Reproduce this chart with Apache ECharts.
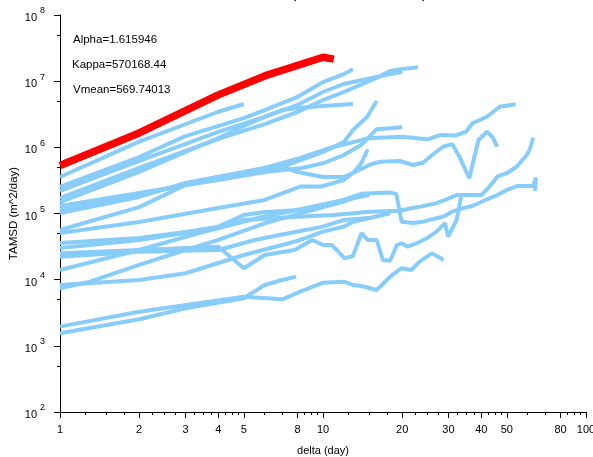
<!DOCTYPE html>
<html>
<head>
<meta charset="utf-8">
<script src="https://cdn.jsdelivr.net/npm/echarts@6/dist/echarts.min.js"></script>
<style>
html, body { margin: 0; padding: 0; background: #fff; }
#chart { width: 593px; height: 457px; }
</style>
</head>
<body>
<div id="chart"></div>
<script>
// tick values
var xMajor = [1, 2, 3, 4, 5, 8, 10, 20, 30, 40, 50, 80, 100]
var xMinor = [1.25, 1.5, 1.75, 2.25, 2.5, 2.75, 3.25, 3.5, 3.75, 4.25, 4.5, 4.75, 6, 7,
    8.5, 9, 9.5, 12.5, 15, 17.5, 22.5, 25, 27.5, 32.5, 35, 37.5, 42.5, 45, 47.5, 60, 70, 85, 90, 95]
var yMinor = [500, 5000, 50000, 500000, 5000000, 50000000]

// fitted mean curve  [delta (day), TAMSD]
var meanCurve = [[1, 5.3e5], [2, 1.65e6], [4, 6.2e6], [6, 1.2e7], [10, 2.3e7], [11, 2.15e7]]

// individual tracks  [delta (day), TAMSD]
var u1 = [[1, 3.56e5], [2, 1.22e6], [4, 3.45e6], [5, 4.52e6]]
var u2 = [[1, 2.52e5], [2, 7.14e5], [3, 1.48e6], [5, 2.77e6], [6, 3.66e6], [8, 5.77e6], [10, 9.7e6], [12, 1.28e7], [13, 1.51e7]]
var u3 = [[1, 2.19e5], [2, 6.22e5], [4, 1.71e6], [6, 2.88e6], [8, 4.37e6], [10, 6.86e6], [12, 9.06e6], [16, 1.16e7], [20, 1.39e7]]
var u4 = [[1, 1.71e5], [2, 4.88e5], [4, 1.34e6], [6, 2.25e6], [8, 3.42e6], [10, 5.19e6], [12, 6.86e6], [16, 1.12e7], [18, 1.43e7], [20, 1.53e7], [23, 1.62e7]]
var u5 = [[1, 1.49e5], [2, 4.24e5], [3, 8.51e5], [4, 1.38e6], [5, 2.1e6], [6, 2.88e6], [7, 3.66e6], [8, 3.94e6], [10, 4.22e6], [13, 4.52e6]]
var m1 = [[1, 1.13e5], [2, 1.9e5], [4, 3.56e5], [7, 5.05e5], [10, 8.51e5], [12, 1.2e6], [13, 1.83e6], [14.7, 2.88e6], [16, 5.01e6]]
var r1 = [[1, 5.64e4], [2, 1.25e5], [3, 2.7e5], [6, 4.88e5], [8.2, 6.9e5], [11, 1.02e6], [15, 1.37e6], [20, 1.45e6], [25, 1.32e6], [28, 1.54e6],
    [32, 1.51e6], [35, 1.72e6], [37, 2.31e6], [42, 2.9e6], [47, 4.11e6], [54, 4.47e6]]
var r2 = [[1, 1.02e5], [2, 1.78e5], [3, 2.89e5], [6, 4.88e5], [7, 5.05e5], [8, 4.24e5], [10, 3.56e5], [12, 3.56e5], [13, 4.1e5], [15, 5.41e5],
    [16.5, 6.07e5], [19.6, 6.22e5], [22, 5.41e5], [24, 5.86e5], [26, 7.66e5], [28.6, 1.02e6], [31, 1.12e6], [33, 7.23e5], [36, 3.41e5],
    [39, 1.29e6], [42, 1.72e6], [44, 1.45e6], [46, 1.02e6]]
var r3 = [[1, 3.01e4], [2, 3.98e4], [4, 6.05e4], [5, 7.98e4], [8, 8.95e4], [11, 9.5e4], [15, 1.065e5], [19.6, 1.1e5], [21.7, 1.2e5], [23.5, 1.27e5],
    [25, 1.34e5], [27, 1.43e5], [29.5, 1.64e5], [32.2, 1.9e5], [36.2, 1.9e5], [40, 1.9e5], [43, 2.55e5], [46, 3.6e5], [50, 4.06e5],
    [54.5, 5.1e5], [59.5, 7.66e5], [61, 9.12e5], [63, 1.4e6]]
var r4 = [[1, 3.59e4], [2, 4.27e4], [3, 5.26e4], [4, 6.33e4], [5, 9.5e4], [6, 1.05e5], [8.2, 1.13e5], [11, 1.43e5], [14, 1.98e5], [18, 2.07e5],
    [19, 1.98e5], [19.9, 7.52e4], [22, 7.19e4], [24, 7.52e4], [26, 8.18e4], [28.6, 8.95e4], [31, 1.065e5], [34, 1.2e5], [37, 1.3e5],
    [42, 1.64e5], [46, 1.9e5], [50, 2.27e5], [55, 2.61e5], [63, 2.61e5], [64.5, 3.5e5], [64, 2.2e5]]
var r5 = [[1, 2.5e4], [2, 2.81e4], [4, 3.15e4], [5, 1.49e4], [6, 2.36e4], [7.8, 2.81e4], [9.1, 3.98e4], [10, 3.34e4], [10.8, 3.34e4],
    [12.1, 2.1e4], [13, 2.28e4], [14, 5.03e4], [14.8, 3.98e4], [16, 3.98e4], [16.9, 1.98e4], [18, 1.93e4], [19.1, 3.34e4], [19.9, 3.55e4],
    [21, 3.15e4], [22.7, 3.55e4], [24.8, 4.22e4], [27, 5.32e4], [29.1, 7.11e4], [29.9, 4.47e4], [32.2, 7.98e4], [33.7, 2.02e5]]
var r6 = [[1, 1.95e3], [2, 3.28e3], [5, 5.53e3], [7, 5.05e3], [8.2, 6.58e3], [10, 8.99e3], [12, 9.32e3], [13, 8.31e3], [14, 8.02e3],
    [16, 6.98e3], [18, 1.11e4], [19.9, 1.49e4], [21.7, 1.4e4], [23.3, 1.87e4], [25.9, 2.5e4], [27.4, 2.22e4], [28.7, 1.98e4]]
var r7 = [[1, 1.55e3], [2, 2.52e3], [3, 3.69e3], [5, 5.23e3], [6, 8.31e3], [7, 9.89e3], [7.9, 1.11e4]]
var r8 = [[1, 8.31e3], [2, 9.89e3], [3, 1.25e4], [5, 2.36e4], [7, 3.34e4], [8.2, 3.98e4], [10, 5.32e4], [12, 6.33e4], [13, 7.52e4], [18, 1.01e5]]
var r9 = [[1, 7.41e3], [1.3, 9.32e3], [2, 1.67e4], [3, 2.81e4], [4, 3.98e4], [6, 7.11e4], [7.4, 8.95e4], [12, 1.51e5], [14, 1.9e5]]
var r10 = [[1, 5.08e4], [2, 7.44e4], [4, 1.21e5], [6, 1.6e5], [8.2, 2.55e5], [9.8, 2.55e5], [12, 3.21e5], [13, 4.1e5], [14, 5.8e5], [14.8, 9.35e5]]
var r11 = [[1, 1.3e5], [2, 2.05e5], [4, 3.21e5], [6, 4.24e5], [8.2, 4.83e5], [10, 5.74e5], [12, 7.66e5], [14, 1.09e6], [16, 1.88e6], [18, 1.94e6], [20, 2.01e6]]
var r12 = [[1, 2.22e4], [2, 2.65e4], [4, 2.81e4], [5.5, 3.98e4], [7.4, 5.03e4], [10, 6.33e4], [12, 7.98e4], [15, 8.55e4]]
var r13 = [[1, 1.4e4], [2, 2.81e4], [3.35, 5.03e4], [5.9, 8.95e4], [7.4, 1.065e5], [12, 1.6e5], [15, 1.9e5]]

var tracks = [r6, r7, r8, r9, r13, r12, r5, r3, r4, r10, r1, r2, r11, m1, u5, u4, u3, u2, u1]

var font = 'Liberation Sans, Arial, Helvetica, sans-serif'
var myChart = echarts.init(document.getElementById('chart'))

var series = []
for (var i in tracks) {
    series.push({
        type: 'line',
        data: tracks[i],
        symbol: 'none',
        silent: true,
        lineStyle: { color: '#88CCFA', width: 4 },
        z: 2
    })
}
series.push({
    type: 'line',
    data: meanCurve,
    symbol: 'none',
    silent: true,
    lineStyle: { color: '#FF0000', width: 7.5 },
    z: 3
})

myChart.setOption({
    animation: false,
    backgroundColor: '#fff',
    grid: { left: 60, right: 7, top: 15, bottom: 45, outerBoundsMode: 'none' },
    xAxis: [{
        type: 'log',
        logBase: 10,
        min: 1,
        max: 100,
        position: 'bottom',
        name: 'delta (day)',
        nameLocation: 'middle',
        nameGap: 33,
        nameMoveOverlap: false,
        nameTextStyle: { color: '#000', fontSize: 11, fontFamily: font },
        axisLine: { onZero: false, lineStyle: { color: '#000', width: 1 } },
        axisTick: { customValues: xMajor, length: 6, lineStyle: { color: '#000' } },
        axisLabel: { customValues: xMajor, color: '#000', fontSize: 11, margin: 12, fontFamily: font },
        splitLine: { show: false }
    }, {
        type: 'log',
        logBase: 10,
        min: 1,
        max: 100,
        position: 'bottom',
        axisLine: { show: false, onZero: false },
        axisTick: { customValues: xMinor, length: 3, lineStyle: { color: '#000' } },
        axisLabel: { show: false },
        splitLine: { show: false }
    }],
    yAxis: [{
        type: 'log',
        logBase: 10,
        min: 100,
        max: 1e8,
        position: 'left',
        name: 'TAMSD (m^2/day)',
        nameLocation: 'middle',
        nameRotate: 90,
        nameGap: 40,
        nameMoveOverlap: false,
        nameTextStyle: { color: '#000', fontSize: 11.5, fontFamily: font },
        axisLine: { onZero: false, lineStyle: { color: '#000', width: 1 } },
        axisTick: { length: 6, lineStyle: { color: '#000' } },
        axisLabel: {
            margin: 15,
            formatter: function (v) {
                return '{b|10}{s|' + Math.round(Math.log(v) / Math.LN10) + '}'
            },
            rich: {
                b: { fontSize: 11, lineHeight: 12, padding: [6, 0, 0, 0], color: '#000', fontFamily: font },
                s: { fontSize: 9, lineHeight: 10, padding: [0, 0, 8, 3], color: '#000', fontFamily: font }
            }
        },
        splitLine: { show: false }
    }, {
        type: 'log',
        logBase: 10,
        min: 100,
        max: 1e8,
        position: 'left',
        axisLine: { show: false, onZero: false },
        axisTick: { customValues: yMinor, length: 3, lineStyle: { color: '#000' } },
        axisLabel: { show: false },
        splitLine: { show: false }
    }],
    graphic: [
        { type: 'text', left: 291, top: -14, style: { text: '(', font: '16px ' + font, fill: '#000' } },
        { type: 'text', left: 422, top: -14, style: { text: ')', font: '16px ' + font, fill: '#000' } },
        { type: 'text', left: 73, top: 34, style: { text: 'Alpha=1.615946', font: '11.5px ' + font, fill: '#000' } },
        { type: 'text', left: 72, top: 59, style: { text: 'Kappa=570168.44', font: '11.5px ' + font, fill: '#000' } },
        { type: 'text', left: 73, top: 84, style: { text: 'Vmean=569.74013', font: '11.5px ' + font, fill: '#000' } }
    ],
    series: series
})
</script>
</body>
</html>
